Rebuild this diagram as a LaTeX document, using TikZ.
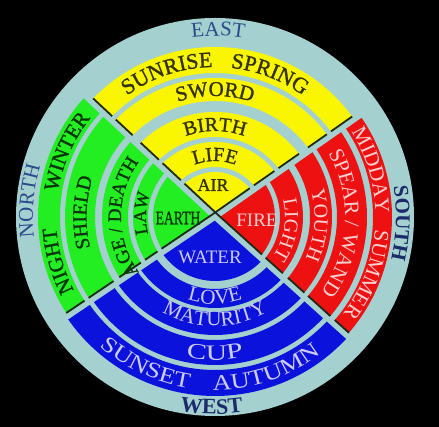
\documentclass[tikz,border=0pt]{standalone}
\usepackage{fontspec}
\usepackage{graphicx}
\setmainfont{Liberation Serif}
\newfontfamily\heavyfont[FakeBold=1.2]{Liberation Serif}
\newfontfamily\widefont[FakeStretch=1.2]{Liberation Serif}
\newfontfamily\xwidefont[FakeStretch=1.35]{Liberation Serif}
\usetikzlibrary{decorations.text,calc}
\definecolor{pale}{HTML}{A5D0D0}
\definecolor{yel}{HTML}{FAF500}
\definecolor{grn}{HTML}{22EE22}
\definecolor{rd}{HTML}{EE1111}
\definecolor{blu}{HTML}{0B12DC}
\definecolor{ytext}{HTML}{34320C}
\definecolor{gtext}{HTML}{0A340A}
\definecolor{rtext}{HTML}{F8D0D0}
\definecolor{btext}{HTML}{CCCCF4}
\definecolor{navy}{HTML}{2B4A8A}
\definecolor{dnavy}{HTML}{1A2A6A}
\definecolor{edgec}{HTML}{1E2A18}
\newcommand{\ringseg}[5]{\fill[#1] (#2:#4) arc[start angle=#2, end angle=#3, radius=#4] -- (#3:#5) arc[start angle=#3, end angle=#2, radius=#5] -- cycle;}
\newcommand{\coreseg}[4]{\fill[#1] (0,0) -- (#2:#4) arc[start angle=#2, end angle=#3, radius=#4] -- cycle;}
\newcommand{\edgeseg}[4]{\draw[edgeline] ($(#1:#3)+(#2:3.6)$) -- ($(#1:#4)+(#2:3.6)$);}
\newcommand{\cwtext}[5]{\path[decorate,decoration={text along path,text align=center,text color=#4,text={#5}}] ({#2+#3}:#1) arc[start angle={#2+#3}, end angle={#2-#3}, radius=#1];}
\newcommand{\ccwtext}[5]{\path[decorate,decoration={text along path,text align=center,text color=#4,text={#5}}] ({#2-#3}:#1) arc[start angle={#2-#3}, end angle={#2+#3}, radius=#1];}
\begin{document}
\begin{tikzpicture}[x=1pt,y=1pt,
  gapline/.style={pale, line width=5.5pt},
  edgeline/.style={edgec, line width=1.8pt},
  corelabel/.style={inner sep=0pt}]
\useasboundingbox (0,0) rectangle (439,427);
\fill[black] (0,0) rectangle (439,427);
\begin{scope}[shift={(215,210)}]
\fill[pale] (0,0) circle[radius=199];
% yellow
\coreseg{yel}{35}{137}{45}
\foreach \ra/\rb in {50/75,80/105,116/139,144/170}{\ringseg{yel}{35}{137}{\ra}{\rb}}
% green
\coreseg{grn}{137}{214}{62}
\foreach \ra/\rb in {67/82,87/113,120/150,155/177}{\ringseg{grn}{137}{214}{\ra}{\rb}}
% blue
\coreseg{blu}{214}{318}{64}
\foreach \ra/\rb in {72/91,95/118,123/148,153/179}{\ringseg{blu}{214}{318}{\ra}{\rb}}
% red
\coreseg{rd}{-42}{35}{60}
\foreach \ra/\rb in {65/88,95/117,122/152,158/177}{\ringseg{rd}{-42}{35}{\ra}{\rb}}
% gaps
\foreach \t in {35,137,214,318}{\draw[gapline] (0,0) -- (\t:182);}
% dark edges
\foreach \ra/\rb in {0/45,50/75,80/105,116/139,144/170}{\edgeseg{137}{47}{\ra}{\rb}\edgeseg{35}{125}{\ra}{\rb}}
\foreach \ra/\rb in {0/62,67/82,87/113,120/150,155/177}{\edgeseg{214}{124}{\ra}{\rb}}
\foreach \ra/\rb in {0/60,65/88,95/117,122/152,158/177}{\edgeseg{318}{48}{\ra}{\rb}}
% yellow texts
\cwtext{150}{90}{80}{ytext}{|\heavyfont\fontsize{22}{22}\selectfont|SUNRISE{\hspace{18pt}}SPRING}
\cwtext{121}{90}{80}{ytext}{|\heavyfont\fontsize{21}{21}\selectfont|SWORD}
\cwtext{86}{90}{80}{ytext}{|\heavyfont\fontsize{20}{20}\selectfont|BIRTH}
\cwtext{56}{90}{80}{ytext}{|\heavyfont\fontsize{20}{20}\selectfont|LIFE}
\node[corelabel, text=ytext, font=\heavyfont\fontsize{18}{18}\selectfont] (air) at (-2,32) {AIR};
% green texts
\cwtext{159}{174.5}{80}{gtext}{|\heavyfont\fontsize{21}{21}\selectfont|NIGHT{\hspace{36pt}}WINTER}
\cwtext{128.5}{178}{80}{gtext}{|\heavyfont\fontsize{20}{20}\selectfont|SHIELD}
\cwtext{94}{180}{80}{gtext}{|\heavyfont\fontsize{19}{19}\selectfont|AGE / DEATH}
\cwtext{69}{177}{80}{gtext}{|\heavyfont\fontsize{18}{18}\selectfont|LAW}
\node[corelabel, text=gtext, font=\heavyfont\fontsize{19}{19}\selectfont] (earth) at (-37,-1) {\scalebox{0.72}[1]{EARTH}};
% red texts
\cwtext{160.5}{-2.5}{80}{rtext}{|\fontsize{21}{21}\selectfont|MIDDAY{\hspace{16pt}}SUMMER}
\cwtext{130}{-3}{80}{rtext}{|\fontsize{21}{21}\selectfont|SPEAR / WAND}
\cwtext{99.5}{-4.5}{80}{rtext}{|\fontsize{20}{20}\selectfont|YOUTH}
\cwtext{70}{-10}{80}{rtext}{|\fontsize{20}{20}\selectfont|LIGHT}
\node[corelabel, text=rtext, font=\fontsize{19}{19}\selectfont] (fire) at (42,-3) {FIRE};
% blue texts
\node[corelabel, text=btext, font=\fontsize{19}{19}\selectfont] (water) at (-5,-40) {WATER};
\ccwtext{87}{270}{80}{btext}{|\fontsize{21}{21}\selectfont|LOVE}
\ccwtext{109}{270}{80}{btext}{|\fontsize{21}{21}\selectfont|MATURITY}
\ccwtext{143}{270}{80}{btext}{|\xwidefont\fontsize{22}{22}\selectfont|CUP}
\ccwtext{173}{268}{80}{btext}{|\widefont\fontsize{22}{22}\selectfont|SUNSET{\hspace{24pt}}AUTUMN}
% compass
\cwtext{181}{89}{60}{navy}{|\fontsize{21}{21}\selectfont|EAST}
\cwtext{182}{175}{60}{navy}{|\fontsize{21}{21}\selectfont|NORTH}
\cwtext{181}{-2}{60}{dnavy}{|\fontsize{21}{21}\selectfont\bfseries|SOUTH}
\ccwtext{197}{269}{60}{dnavy}{|\fontsize{22}{22}\selectfont\bfseries|WEST}
\end{scope}
\end{tikzpicture}
\end{document}
